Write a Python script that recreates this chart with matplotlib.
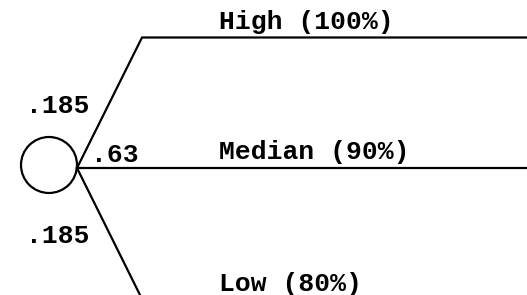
import matplotlib.pyplot as plt
from matplotlib.patches import Circle

# Chance node with three outcome branches
outcomes = ["High (100%)", "Median (90%)", "Low (80%)"]
probs = [".185", ".63", ".185"]

# layout (pixel-like units, y pointing down)
node_xy = (49, 165)
node_r = 28
origin = (77, 168)
branch_y = [37.5, 168, 299]
knee_x = [142, 77, 142]
label_x = 219
prob_pos = [(26, 113), (91, 162), (26, 243)]

fig = plt.figure(figsize=(5.27, 2.95), dpi=100)
ax = fig.add_axes([0, 0, 1, 1])
ax.set_xlim(0, 527)
ax.set_ylim(295, 0)
ax.axis("off")

font = dict(family="Liberation Mono", weight="bold", size=19, color="black")

ax.add_patch(Circle(node_xy, node_r, fill=False, lw=1.6, ec="black"))

for name, y, kx in zip(outcomes, branch_y, knee_x):
    ax.plot([origin[0], kx, 527], [origin[1], y, y], color="black", lw=1.6,
            solid_joinstyle="miter", clip_on=True)
    ax.text(label_x, y - 8.5, name, ha="left", va="baseline", **font)

for p, (px, py) in zip(probs, prob_pos):
    ax.text(px, py, p, ha="left", va="baseline", **font)

fig.savefig("out.png", dpi=100, facecolor="white")
